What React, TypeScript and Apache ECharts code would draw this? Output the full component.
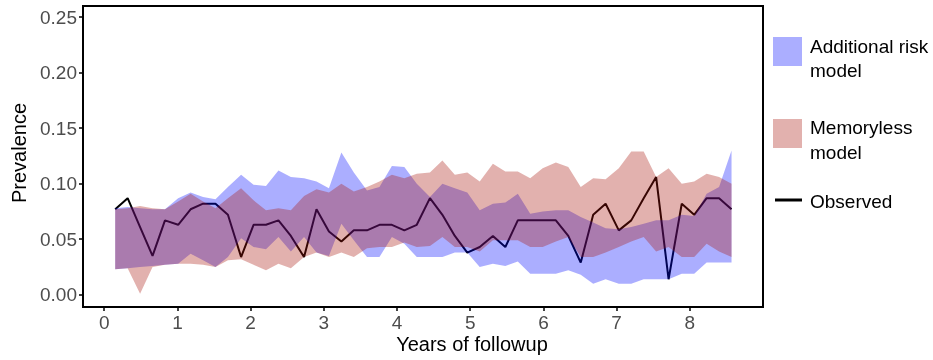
import React, { useEffect, useRef } from "react";
import * as echarts from "echarts";

const years = [0.15, 0.32, 0.49, 0.66, 0.83, 1.01, 1.18, 1.35, 1.52, 1.69, 1.87, 2.04, 2.21, 2.38, 2.55, 2.73, 2.9, 3.07, 3.24, 3.41, 3.59, 3.76, 3.93, 4.1, 4.27, 4.45, 4.62, 4.79, 4.96, 5.13, 5.31, 5.48, 5.65, 5.82, 5.99, 6.17, 6.34, 6.51, 6.68, 6.85, 7.03, 7.2, 7.37, 7.54, 7.71, 7.89, 8.06, 8.23, 8.4, 8.57];

const observed = [0.077, 0.087, 0.061, 0.035, 0.067, 0.063, 0.077, 0.082, 0.082, 0.072, 0.034, 0.063, 0.063, 0.067, 0.053, 0.034, 0.077, 0.057, 0.048, 0.058, 0.058, 0.063, 0.063, 0.058, 0.063, 0.087, 0.072, 0.053, 0.038, 0.043, 0.053, 0.043, 0.067, 0.067, 0.067, 0.067, 0.053, 0.029, 0.072, 0.082, 0.058, 0.067, 0.087, 0.106, 0.014, 0.082, 0.072, 0.087, 0.087, 0.077];

const additionalUpper = [0.078, 0.079, 0.078, 0.077, 0.077, 0.087, 0.092, 0.088, 0.086, 0.097, 0.108, 0.099, 0.098, 0.112, 0.106, 0.105, 0.102, 0.096, 0.128, 0.11, 0.094, 0.097, 0.116, 0.115, 0.1, 0.088, 0.1, 0.096, 0.092, 0.076, 0.082, 0.083, 0.091, 0.073, 0.075, 0.076, 0.076, 0.07, 0.065, 0.06, 0.059, 0.061, 0.064, 0.067, 0.067, 0.072, 0.071, 0.091, 0.097, 0.13];

const additionalLower = [0.023, 0.024, 0.025, 0.026, 0.027, 0.028, 0.037, 0.031, 0.025, 0.034, 0.051, 0.043, 0.041, 0.052, 0.039, 0.052, 0.038, 0.035, 0.064, 0.049, 0.034, 0.034, 0.052, 0.046, 0.034, 0.034, 0.034, 0.038, 0.038, 0.025, 0.028, 0.026, 0.03, 0.019, 0.019, 0.019, 0.022, 0.018, 0.01, 0.014, 0.01, 0.01, 0.014, 0.014, 0.014, 0.019, 0.019, 0.029, 0.029, 0.029];

const memorylessUpper = [0.077, 0.078, 0.08, 0.078, 0.077, 0.084, 0.091, 0.084, 0.078, 0.087, 0.096, 0.085, 0.076, 0.078, 0.076, 0.089, 0.095, 0.092, 0.1, 0.093, 0.097, 0.102, 0.108, 0.105, 0.109, 0.11, 0.121, 0.108, 0.11, 0.102, 0.118, 0.111, 0.111, 0.105, 0.114, 0.119, 0.115, 0.097, 0.105, 0.104, 0.114, 0.129, 0.129, 0.106, 0.114, 0.1, 0.102, 0.109, 0.106, 0.1];

const memorylessLower = [0.023, 0.024, 0.001, 0.025, 0.027, 0.028, 0.028, 0.027, 0.025, 0.031, 0.032, 0.027, 0.022, 0.028, 0.024, 0.034, 0.038, 0.034, 0.038, 0.034, 0.042, 0.043, 0.043, 0.047, 0.043, 0.044, 0.052, 0.043, 0.043, 0.039, 0.049, 0.049, 0.049, 0.043, 0.043, 0.048, 0.052, 0.034, 0.034, 0.038, 0.043, 0.048, 0.052, 0.039, 0.043, 0.034, 0.034, 0.046, 0.039, 0.034];

const yTicks = [0, 0.05, 0.1, 0.15, 0.2, 0.25];
const xTicks = [0, 1, 2, 3, 4, 5, 6, 7, 8];

const BLUE = "rgba(0,10,255,0.33)";
const RED = "rgba(168,18,8,0.33)";
const FONT = '"Liberation Sans", Arial, sans-serif';

function band(name: string, lower: number[], upper: number[], color: string, z: number) {
  return {
    type: "custom",
    name,
    z,
    silent: true,
    data: years.map((t, i) => [t, lower[i], upper[i]]),
    encode: { x: 0, y: [1, 2] },
    renderItem: (params: any, api: any) => {
      if (params.dataIndex !== 0) return null;
      const pts: number[][] = [];
      for (let i = 0; i < years.length; i++) pts.push(api.coord([years[i], upper[i]]));
      for (let i = years.length - 1; i >= 0; i--) pts.push(api.coord([years[i], lower[i]]));
      return { type: "polygon", shape: { points: pts }, style: { fill: color } };
    },
  };
}

export default function App() {
  const ref = useRef<HTMLDivElement>(null);
  useEffect(() => {
    if (!ref.current) return;
    const chart = echarts.init(ref.current, undefined, { renderer: "svg" });
    chart.setOption({
      animation: false,
      grid: {
        left: 83,
        top: 6,
        width: 680,
        height: 301,
        show: true,
        borderColor: "#000",
        borderWidth: 2,
        backgroundColor: "transparent",
      },
      xAxis: {
        type: "value",
        min: -0.29,
        max: 9.0,
        axisLine: { show: false, onZero: false },
        splitLine: { show: false },
        axisTick: { show: true, inside: false, customValues: xTicks, length: 4, lineStyle: { color: "#000", width: 1.5 } },
        axisLabel: { customValues: xTicks, margin: 6, color: "#4d4d4d", fontSize: 19, fontFamily: FONT },
      },
      yAxis: {
        type: "value",
        min: -0.011,
        max: 0.26,
        axisLine: { show: false, onZero: false },
        splitLine: { show: false },
        axisTick: { show: true, inside: false, customValues: yTicks, length: 4, lineStyle: { color: "#000", width: 1.5 } },
        axisLabel: {
          customValues: yTicks,
          margin: 6,
          color: "#4d4d4d",
          fontSize: 19,
          fontFamily: FONT,
          formatter: (v: number) => v.toFixed(2),
        },
      },
      series: [
        {
          type: "line",
          name: "Observed",
          z: 1,
          data: years.map((t, i) => [t, observed[i]]),
          symbol: "none",
          lineStyle: { color: "#000", width: 2 },
        },
        band("Additional risk model", additionalLower, additionalUpper, BLUE, 2),
        band("Memoryless model", memorylessLower, memorylessUpper, RED, 3),
      ],
      graphic: [
        {
          type: "text",
          x: 19,
          y: 153,
          rotation: Math.PI / 2,
          style: { text: "Prevalence", font: `20px ${FONT}`, fill: "#000", align: "center", verticalAlign: "middle" },
        },
        {
          type: "text",
          x: 472,
          y: 344,
          style: { text: "Years of followup", font: `20px ${FONT}`, fill: "#000", align: "center", verticalAlign: "middle" },
        },
        { type: "rect", shape: { x: 773, y: 37, width: 29, height: 29 }, style: { fill: BLUE } },
        { type: "rect", shape: { x: 773, y: 119, width: 29, height: 29 }, style: { fill: RED } },
        { type: "line", shape: { x1: 775, y1: 200, x2: 802, y2: 200 }, style: { stroke: "#000", lineWidth: 3 } },
        { type: "text", x: 810, y: 46, style: { text: "Additional risk", font: `19px ${FONT}`, fill: "#000", verticalAlign: "middle" } },
        { type: "text", x: 810, y: 70, style: { text: "model", font: `19px ${FONT}`, fill: "#000", verticalAlign: "middle" } },
        { type: "text", x: 810, y: 127, style: { text: "Memoryless", font: `19px ${FONT}`, fill: "#000", verticalAlign: "middle" } },
        { type: "text", x: 810, y: 152, style: { text: "model", font: `19px ${FONT}`, fill: "#000", verticalAlign: "middle" } },
        { type: "text", x: 810, y: 201, style: { text: "Observed", font: `19px ${FONT}`, fill: "#000", verticalAlign: "middle" } },
      ],
    });
    return () => chart.dispose();
  }, []);
  return <div ref={ref} style={{ position: "fixed", left: 0, top: 0, width: 933, height: 360 }} />;
}
